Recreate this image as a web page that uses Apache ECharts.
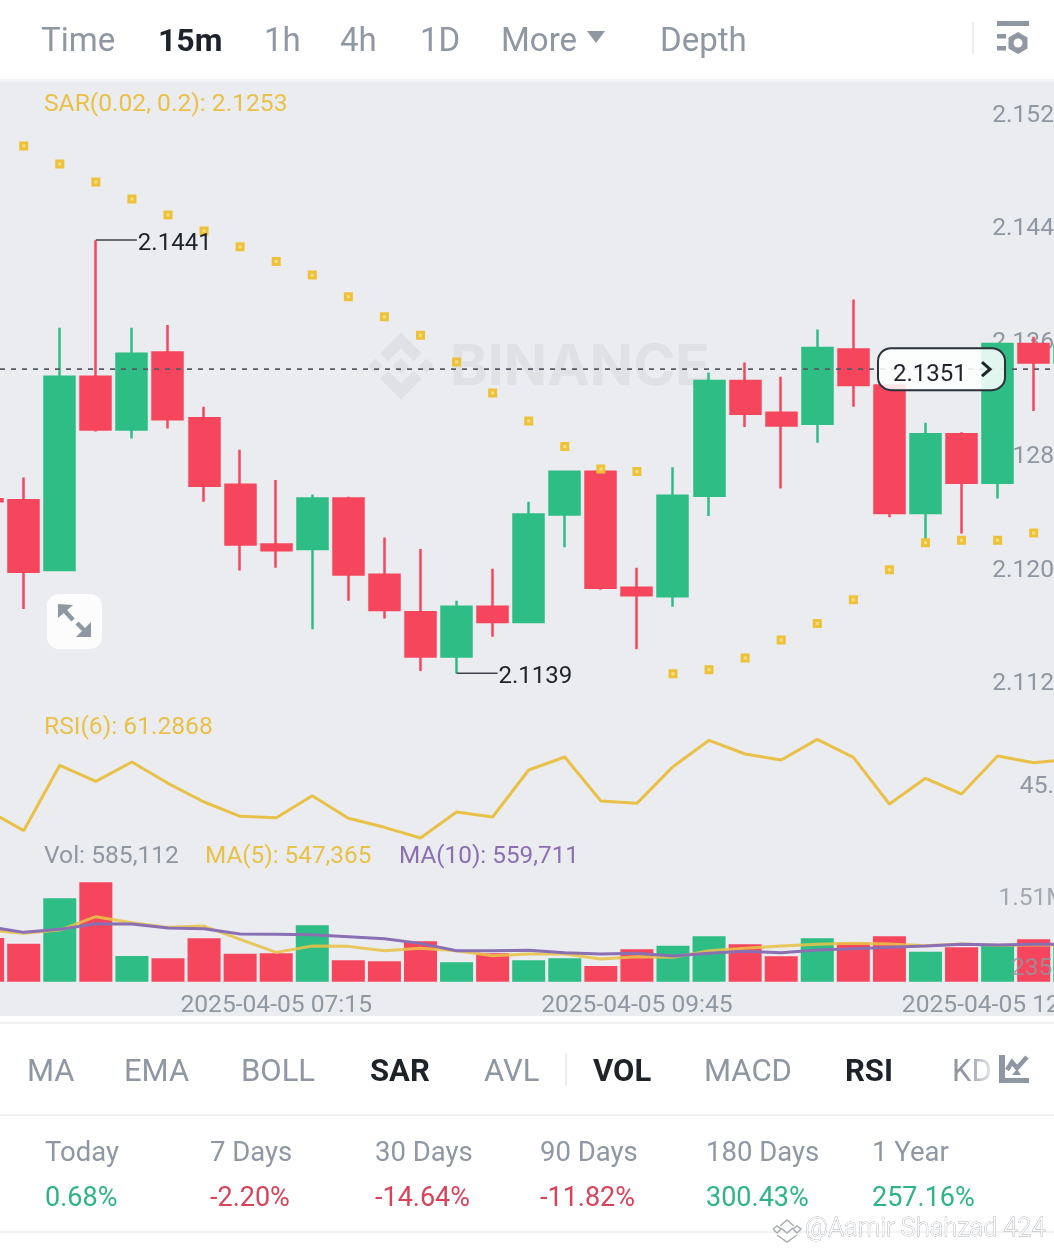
<!DOCTYPE html>
<html>
<head>
<meta charset="utf-8">
<style>
  html, body { margin: 0; padding: 0; background: #fff; }
  #chart { width: 1054px; height: 1251px; }
</style>
<script src="https://cdn.jsdelivr.net/npm/echarts@6/dist/echarts.min.js"></script>
</head>
<body>
<div id="chart"></div>
<script>
// data
const times = [
  '2025-04-05 05:15', '2025-04-05 05:30', '2025-04-05 05:45', '2025-04-05 06:00', '2025-04-05 06:15', '2025-04-05 06:30',
  '2025-04-05 06:45', '2025-04-05 07:00', '2025-04-05 07:15', '2025-04-05 07:30', '2025-04-05 07:45', '2025-04-05 08:00',
  '2025-04-05 08:15', '2025-04-05 08:30', '2025-04-05 08:45', '2025-04-05 09:00', '2025-04-05 09:15', '2025-04-05 09:30',
  '2025-04-05 09:45', '2025-04-05 10:00', '2025-04-05 10:15', '2025-04-05 10:30', '2025-04-05 10:45', '2025-04-05 11:00',
  '2025-04-05 11:15', '2025-04-05 11:30', '2025-04-05 11:45', '2025-04-05 12:00', '2025-04-05 12:15', '2025-04-05 12:30',
  '2025-04-05 12:45'
];
const opens = [2.12604, 2.12597, 2.12110, 2.13457, 2.13090, 2.13626, 2.13167, 2.12704, 2.12288, 2.12256, 2.12609, 2.12077, 2.11815, 2.11508, 2.11854, 2.11747, 2.12497, 2.12795, 2.11986, 2.11928, 2.12628, 2.13427, 2.13206, 2.13129, 2.13647, 2.13396, 2.12507, 2.13057, 2.12718, 2.13685, 2.13557];
const closes = [2.12590, 2.12098, 2.13457, 2.13090, 2.13617, 2.13160, 2.12697, 2.12288, 2.12247, 2.12609, 2.12079, 2.11831, 2.11508, 2.11854, 2.11747, 2.12497, 2.12795, 2.11986, 2.11935, 2.12628, 2.13427, 2.13199, 2.13118, 2.13657, 2.13399, 2.12507, 2.13057, 2.12718, 2.13685, 2.13557, 2.13680];
const lows = [2.12590, 2.11838, 2.12110, 2.13076, 2.13027, 2.13097, 2.12586, 2.12107, 2.12126, 2.11698, 2.11896, 2.11773, 2.11406, 2.11389, 2.11645, 2.11747, 2.12268, 2.11972, 2.11557, 2.11854, 2.12486, 2.13106, 2.12679, 2.12997, 2.13248, 2.12477, 2.12319, 2.12365, 2.12609, 2.13218, 2.13557];
const highs = [2.12604, 2.12755, 2.13798, 2.14409, 2.13798, 2.13817, 2.13248, 2.12948, 2.12737, 2.12637, 2.12621, 2.12337, 2.12256, 2.11896, 2.12119, 2.12586, 2.12795, 2.12795, 2.12126, 2.12827, 2.13487, 2.13557, 2.13457, 2.13787, 2.13996, 2.13396, 2.13136, 2.13071, 2.13685, 2.13736, 2.13800];
const sar = [null, 2.15065, 2.14940, 2.14814, 2.14696, 2.14584, 2.14473, 2.14363, 2.14261, 2.14166, 2.14015, 2.13875, 2.13746, 2.13559, 2.13344, 2.13148, 2.12970, 2.12814, 2.12797, 2.11387, 2.11415, 2.11497, 2.11622, 2.11738, 2.11903, 2.12112, 2.12300, 2.12317, 2.12317, 2.12368, null];
const rsi = [40.71, 32.57, 58.71, 52.31, 60.04, 51.51, 44.04, 38.31, 37.77, 46.57, 37.51, 33.91, 29.64, 40.04, 38.04, 56.84, 62.04, 44.44, 43.51, 58.17, 68.71, 63.24, 60.84, 69.11, 61.91, 43.24, 53.51, 47.24, 62.44, 59.77, 61.11];
const volumes = [800148, 696312, 1527000, 1820184, 470316, 427560, 794040, 513072, 519180, 1032252, 390912, 372588, 739068, 354264, 519180, 390912, 427560, 287076, 592476, 659664, 830688, 684096, 464208, 794040, 714636, 830688, 549720, 629124, 671880, 775716, 702000];
const volMa5 = [946740, 885660, 946740, 1191060, 1081116, 995604, 1020036, 775716, 537504, 653556, 647448, 568044, 610800, 568044, 476424, 506964, 506964, 415344, 458100, 445884, 568044, 610800, 653556, 684096, 702420, 690204, 659664, 690204, 665772, 671880, 671880];
const volMa10 = [1007820, 903984, 958956, 1062792, 1056684, 983388, 971172, 873444, 867336, 861228, 824580, 787932, 702420, 568044, 568044, 574152, 531396, 506964, 519180, 470316, 519180, 555828, 531396, 580260, 604692, 629124, 653556, 684096, 671880, 684096, 690204];

const priceTicks = [2.1520, 2.1441, 2.1362, 2.1282, 2.1203, 2.1124];
const rsiTicks = [45.8];
const volTicks = [235000, 1510000];
const lastPrice = 2.1351;
const noteIndex = [3, 13];
const notePrice = [2.1441, 2.1139];

const topTabs = ['Time', '15m', '1h', '4h', '1D', 'More', 'Depth'];
const indicatorTabs = ['MA', 'EMA', 'BOLL', 'SAR', 'AVL', 'VOL', 'MACD', 'RSI', 'KD'];
const activeTabs = ['15m', 'SAR', 'VOL', 'RSI'];
const periodNames = ['Today', '7 Days', '30 Days', '90 Days', '180 Days', '1 Year'];
const periodChanges = ['0.68%', '-2.20%', '-14.64%', '-11.82%', '300.43%', '257.16%'];

const FONT = 'Roboto';
const GREY = '#8f97a3';
const DARK = '#1e2329';
const RED = '#f6465d';
const GREEN = '#2ebd85';
const YELLOW = '#e9c149';
const PURPLE = '#8a6fb3';
const PANEL = '#eaecef';
const WATERMARK = '#dfe1e5';

// 31 bands of 36.07px, the first and last ones run off the canvas
const gridBox = { left: -30.4, width: 1118.2, outerBoundsMode: 'none' };

// y is the wanted centre of the glyphs, Roboto sits about 2px high on 'middle'
const text = (str, x, y, size, fill, weight, z, family) => ({
  type: 'text',
  x: x,
  y: y + 2,
  z: z || 20,
  silent: true,
  style: { text: str, fill: fill, font: (weight || 400) + ' ' + size + 'px ' + (family || FONT), align: 'left', verticalAlign: 'middle' }
});

const poly = (points, fill, z) => ({ type: 'polygon', z: z || 20, silent: true, shape: { points: points }, style: { fill: fill } });
const rect = (x, y, w, h, fill, z, r) => ({ type: 'rect', z: z || 20, silent: true, shape: { x: x, y: y, width: w, height: h, r: r || 0 }, style: { fill: fill } });
const stroke = (points, color, width, z) => ({ type: 'polyline', z: z || 20, silent: true, shape: { points: points }, style: { stroke: color, lineWidth: width, fill: 'none' } });

function watermarkLogo() {
  const cx = 401, cy = 366, u = 33.5;
  const shape = (pts) => poly(pts.map(p => [cx + p[0] * u, cy + p[1] * u]), WATERMARK, 1);
  const diamond = (dx, h) => shape([[dx, -h], [dx + h, 0], [dx, h], [dx - h, 0]]);
  return [
    shape([[0, -1], [0.62, -0.38], [0.38, -0.14], [0, -0.52], [-0.38, -0.14], [-0.62, -0.38]]),
    shape([[0, 1], [0.62, 0.38], [0.38, 0.14], [0, 0.52], [-0.38, 0.14], [-0.62, 0.38]]),
    diamond(0, 0.24),
    diamond(-0.76, 0.22),
    diamond(0.76, 0.22)
  ];
}

function chromeElements() {
  const topX = [41, 158, 264, 340, 420, 501, 660];
  const tabX = [27, 124, 241, 370, 484, 593, 704, 845, 952];
  const periodX = [45, 210, 375, 540, 706, 872];
  const els = [
    rect(0, 79, 1054, 3, '#f2f3f5', -11),
    rect(0, 82, 1054, 934, PANEL, -10),
    rect(0, 1022, 1054, 2, '#f1f2f4'),
    rect(0, 1114, 1054, 2, '#f1f2f4'),
    rect(0, 1231, 1054, 2, '#f1f2f4'),
    rect(972, 22, 2, 32, '#eceef0'),
    rect(565, 1053, 2, 33, '#eceef0')
  ];
  topTabs.forEach((t, i) => {
    const on = activeTabs.includes(t);
    els.push(text(t, topX[i], 41, on ? 32 : 33, on ? DARK : GREY, on ? 700 : 400));
  });
  indicatorTabs.forEach((t, i) => {
    const on = activeTabs.includes(t);
    els.push(text(t, tabX[i], 1071, 31, on ? DARK : GREY, on ? 700 : 400));
  });
  periodNames.forEach((t, i) => els.push(text(t, periodX[i], 1152, 27.5, GREY)));
  periodChanges.forEach((t, i) => {
    els.push(text(t, periodX[i], 1197, 27, t.charAt(0) === '-' ? '#d9435a' : '#2eb583'));
  });

  // More arrow and settings icon
  els.push(poly([[587, 31], [605, 31], [596, 43]], GREY));
  els.push(rect(997, 21, 32, 5, GREY));
  els.push(rect(997, 34, 9, 4.5, GREY));
  els.push(rect(997, 46, 9, 4.5, GREY));
  els.push(poly([[1018, 32], [1027.5, 37.5], [1027.5, 48.5], [1018, 54], [1008.5, 48.5], [1008.5, 37.5]], GREY));
  els.push({ type: 'circle', z: 21, silent: true, shape: { cx: 1018, cy: 43, r: 4.5 }, style: { fill: '#fff' } });

  // KD fades under the chart icon
  els.push({
    type: 'rect', z: 21, silent: true,
    shape: { x: 966, y: 1050, width: 30, height: 44 },
    style: { fill: new echarts.graphic.LinearGradient(0, 0, 1, 0, [{ offset: 0, color: 'rgba(255,255,255,0)' }, { offset: 1, color: 'rgba(255,255,255,0.9)' }]) }
  });
  els.push(poly([[999, 1055], [1005, 1055], [1005, 1078], [1029, 1078], [1029, 1083], [999, 1083]], GREY, 22));
  els.push(stroke([[1007, 1070], [1012, 1062], [1017, 1068], [1027, 1057]], GREY, 4.5, 22));
  els.push(poly([[1012, 1075], [1021, 1075], [1017, 1069]], GREY, 22));

  // expand button
  els.push(rect(47, 594, 55, 55, 'rgba(255,255,255,0.85)', 10, 12));
  els.push(poly([[58, 604], [73, 605], [58, 618]], GREY, 11));
  els.push(stroke([[64, 610], [73, 620]], GREY, 4.5, 11));
  els.push(poly([[91, 637], [76, 637], [91, 622]], GREY, 11));
  els.push(stroke([[85, 631], [77, 623]], GREY, 4.5, 11));

  // chart legends
  els.push(text('SAR(0.02, 0.2): 2.1253', 44, 103, 24.6, YELLOW));
  els.push(text('RSI(6): 61.2868', 44, 726, 24.6, YELLOW));
  els.push(text('Vol: 585,112', 44, 855, 24.6, GREY));
  els.push(text('MA(5): 547,365', 205, 855, 24.3, YELLOW));
  els.push(text('MA(10): 559,711', 399, 855, 24.3, PURPLE));

  // Binance watermark in the plot
  els.push.apply(els, watermarkLogo());
  els.push(text('BINANCE', 450, 366, 57, WATERMARK, 700, 1, 'Inter'));

  // author stamp
  const stampLines = [
    [[780, 1226], [787, 1220], [794, 1226]],
    [[781, 1228], [787, 1233], [793, 1228]],
    [[773, 1229], [777, 1226], [781, 1229], [777, 1233], [773, 1229]],
    [[793, 1229], [797, 1226], [801, 1229], [797, 1233], [793, 1229]],
    [[777, 1235], [787, 1242], [797, 1235]]
  ];
  stampLines.forEach(pts => els.push(stroke(pts, '#a8adb4', 1.5, 30)));
  els.push({
    type: 'text', x: 805, y: 1230, z: 30, silent: true,
    style: { text: '@Aamir Shahzad 424', font: '300 25.4px ' + FONT, fill: '#fff', stroke: '#a8adb4', lineWidth: 0.8, align: 'left', verticalAlign: 'middle' }
  });
  return els;
}

const axisLabelBase = { fontFamily: FONT, fontSize: 24.6, color: GREY, margin: 0, align: 'right' };
const sideAxis = (gridIndex, min, max, ticks, extra) => ({
  type: 'value',
  gridIndex: gridIndex,
  position: 'right',
  offset: -20,
  min: min,
  max: max,
  axisLine: { show: false },
  axisTick: { show: false },
  splitLine: { show: false },
  axisLabel: Object.assign({}, axisLabelBase, { customValues: ticks }, extra)
});
const bottomAxis = (gridIndex, showLabel) => ({
  type: 'category',
  gridIndex: gridIndex,
  data: times,
  axisLine: { show: false },
  axisTick: { show: false },
  splitLine: { show: false },
  axisLabel: showLabel ? {
    show: true,
    fontFamily: FONT,
    fontSize: 24.6,
    color: GREY,
    margin: 12,
    hideOverlap: false,
    interval: (index) => index % 10 === 8
  } : { show: false }
});

const option = {
  animation: false,
  backgroundColor: '#fff',
  textStyle: { fontFamily: FONT },
  graphic: { elements: chromeElements() },
  grid: [
    Object.assign({ top: 82.16, height: 618.44 }, gridBox),
    Object.assign({ top: 730, height: 120 }, gridBox),
    Object.assign({ top: 860, height: 121.7 }, gridBox)
  ],
  xAxis: [bottomAxis(0, false), bottomAxis(1, false), bottomAxis(2, true)],
  yAxis: [
    sideAxis(0, 2.112, 2.1551, priceTicks, { verticalAlign: 'bottom', lineHeight: 22, formatter: (v) => v.toFixed(4) }),
    sideAxis(1, 24.84, 72.84, rsiTicks, { verticalAlign: 'bottom', lineHeight: 22, formatter: (v) => v.toFixed(1) }),
    Object.assign(sideAxis(2, 0, 2230000, volTicks, {
      verticalAlign: 'middle',
      padding: [4, 0, 0, 0],
      color: 'rgba(143,151,163,0.8)',
      formatter: (v) => v >= 1000000 ? (v / 1000000).toFixed(2) + 'M' : (v / 1000).toFixed(0) + 'K'
    }), { z: 6 })
  ],
  series: [
    {
      type: 'candlestick',
      xAxisIndex: 0,
      yAxisIndex: 0,
      barWidth: 30.5,
      data: times.map((t, i) => [opens[i], closes[i], lows[i], highs[i]]),
      itemStyle: { color: GREEN, color0: RED, borderColor: GREEN, borderColor0: RED, borderWidth: 2.5 }
    },
    {
      type: 'scatter',
      xAxisIndex: 0,
      yAxisIndex: 0,
      z: 4,
      symbol: 'rect',
      symbolSize: 6,
      data: sar,
      itemStyle: { color: '#f7e07f', borderColor: '#edc23a', borderWidth: 3, opacity: 1 }
    },
    {
      // high and low notes
      type: 'custom',
      xAxisIndex: 0,
      yAxisIndex: 0,
      z: 5,
      clip: false,
      encode: { x: 0, y: 1 },
      data: noteIndex.map((idx, i) => [idx, notePrice[i]]),
      renderItem: (params, api) => {
        const p = api.coord([api.value(0), api.value(1)]);
        return {
          type: 'group',
          children: [
            { type: 'line', shape: { x1: p[0], y1: p[1], x2: p[0] + 41, y2: p[1] }, style: { stroke: '#3d424a', lineWidth: 1.5 } },
            { type: 'text', x: p[0] + 42, y: p[1] + 4, style: { text: notePrice[params.dataIndex].toFixed(4), fill: DARK, font: '24px ' + FONT, align: 'left', verticalAlign: 'middle' } }
          ]
        };
      }
    },
    {
      // last price: dashed line over the candles and its tag
      type: 'custom',
      xAxisIndex: 0,
      yAxisIndex: 0,
      z: 6,
      encode: { x: 0, y: 1 },
      data: [[0, lastPrice]],
      renderItem: (params, api) => {
        const y = api.coord([0, api.value(1)])[1];
        return {
          type: 'group',
          children: [
            { type: 'line', shape: { x1: 0, y1: y, x2: 1054, y2: y }, style: { stroke: '#565b64', lineWidth: 1.8, lineDash: [5, 6] } },
            { type: 'rect', shape: { x: 878, y: y - 21, width: 127, height: 42, r: 13 }, style: { fill: 'rgba(255,255,255,0.86)', stroke: '#2b3139', lineWidth: 2 } },
            { type: 'text', x: 893, y: y + 6, style: { text: lastPrice.toFixed(4), fill: DARK, font: '24px ' + FONT, align: 'left', verticalAlign: 'middle' } },
            { type: 'polyline', shape: { points: [[982, y - 7], [990, y], [982, y + 7]] }, style: { stroke: DARK, lineWidth: 3, fill: 'none' } }
          ]
        };
      }
    },
    {
      type: 'line',
      name: 'RSI(6)',
      xAxisIndex: 1,
      yAxisIndex: 1,
      symbol: 'none',
      data: rsi,
      lineStyle: { color: YELLOW, width: 3 }
    },
    {
      type: 'bar',
      xAxisIndex: 2,
      yAxisIndex: 2,
      barWidth: 33,
      data: volumes.map((v, i) => ({ value: v, itemStyle: { color: closes[i] >= opens[i] ? GREEN : RED } }))
    },
    {
      type: 'line',
      name: 'MA(5)',
      xAxisIndex: 2,
      yAxisIndex: 2,
      z: 3,
      symbol: 'none',
      data: volMa5,
      lineStyle: { color: YELLOW, width: 3, opacity: 0.88 }
    },
    {
      type: 'line',
      name: 'MA(10)',
      xAxisIndex: 2,
      yAxisIndex: 2,
      z: 4,
      symbol: 'none',
      data: volMa10,
      lineStyle: { color: PURPLE, width: 3 }
    }
  ]
};

const chart = echarts.init(document.getElementById('chart'));
chart.setOption(option);
</script>
</body>
</html>
